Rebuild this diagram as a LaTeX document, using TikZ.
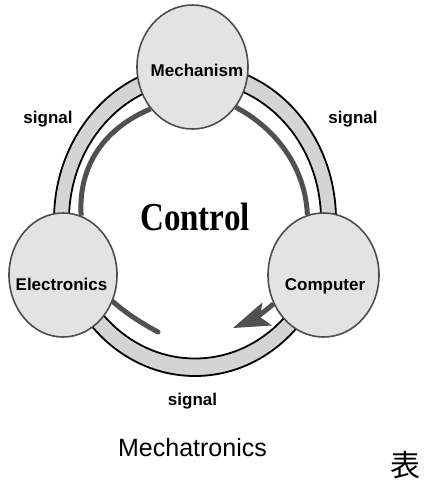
\documentclass[tikz,border=0pt]{standalone}
\usepackage{fontspec}
\usepackage{graphicx}
\setmainfont{Liberation Sans}
\newfontfamily\ctlfont{Liberation Serif}
\newfontfamily\cjkfont{Noto Sans CJK JP}
\usetikzlibrary{shapes.geometric,arrows.meta,backgrounds}
\definecolor{ringfill}{HTML}{D4D4D4}
\definecolor{nodefill}{HTML}{E3E3E3}
\definecolor{nodeline}{HTML}{4D4D4D}
\definecolor{flow}{HTML}{505050}
\begin{document}
\begin{tikzpicture}[x=1pt,y=-1pt,
  part/.style={ellipse, draw=nodeline, line width=1.6pt, fill=nodefill,
    minimum width=111pt, minimum height=124pt, inner sep=0pt},
  parttext/.style={anchor=base, inner sep=0pt, font=\fontsize{17}{20}\selectfont\bfseries},
  sig/.style={anchor=base, inner sep=0pt, font=\fontsize{17}{20}\selectfont\bfseries},
  flowline/.style={draw=flow, line width=5pt},
  ringline/.style={draw=black, line width=1.8pt}]
\useasboundingbox (0,0) rectangle (426,483);
% parts
\node[part] (mech) at (192.5,67) {};
\node[part, minimum width=108pt] (elec) at (63,275) {};
\node[part] (comp) at (323.5,275) {};
% ring and flows behind the parts
\begin{scope}[on background layer]
  \coordinate (ringc) at (195,220);
  \fill[ringfill, even odd rule] (ringc) ellipse [x radius=141pt, y radius=156pt]
                                 (ringc) ellipse [x radius=126pt, y radius=138.5pt];
  \draw[ringline] (ringc) ellipse [x radius=141pt, y radius=156pt];
  \draw[ringline] (ringc) ellipse [x radius=126pt, y radius=138.5pt];
  \draw[flowline] (mech.225) .. controls (105,128) and (78,165) .. (elec.73);
  \draw[flowline] (mech.317) .. controls (270,125) and (305,162) .. (comp.105);
  \coordinate (elecend) at (158,332);
  \draw[flowline, line cap=round] (elec.332) .. controls (127,314) and (143,324) .. (elecend);
  \coordinate (arrowtip) at (233,328);
  \draw[flowline, -{Stealth[length=37pt, width=25pt, inset=8pt, line width=0pt]}]
    (comp.210) .. controls (262,314) and (250,321) .. (arrowtip);
\end{scope}
% texts
\node[parttext] (mechlabel) at (197,76) {Mechanism};
\node[parttext] (eleclabel) at (61.5,290) {Electronics};
\node[parttext] (complabel) at (325,290) {Computer};
\node[sig] (sigleft) at (48,123) {signal};
\node[sig] (sigright) at (353,123) {signal};
\node[sig] (sigbottom) at (192.5,405) {signal};
\node[anchor=base, inner sep=0pt, font=\ctlfont\fontsize{33}{40}\selectfont\bfseries] (ctl) at (195,230) {\scalebox{1}[1.2]{Control}};
\node[anchor=base, inner sep=0pt, font=\fontsize{25}{30}\selectfont] (title) at (192.5,456) {Mechatronics};
\node[inner sep=0pt, font=\cjkfont\fontsize{30}{34}\selectfont] (biao) at (405,465) {表};
\end{tikzpicture}
\end{document}
